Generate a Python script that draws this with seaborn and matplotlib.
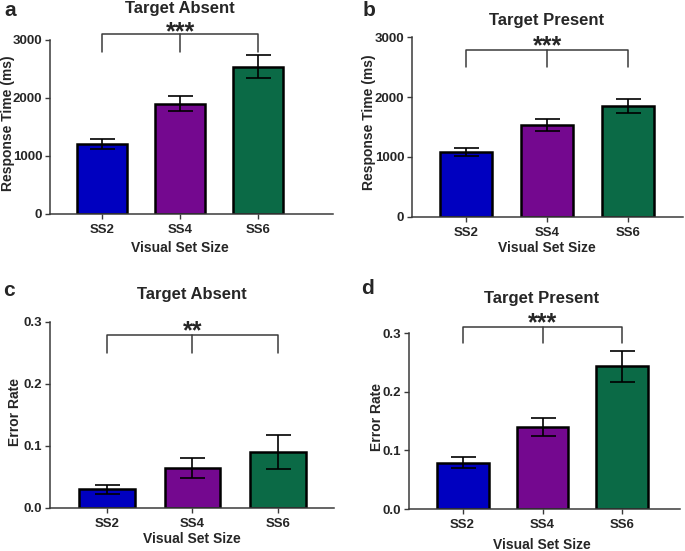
import matplotlib
matplotlib.use("Agg")
import matplotlib.pyplot as plt
import seaborn as sns
import pandas as pd

# data
set_sizes = ["SS2", "SS4", "SS6"]
rt_absent = [1205, 1905, 2540]
rt_absent_sem = [80, 125, 195]
rt_present = [1090, 1535, 1855]
rt_present_sem = [68, 100, 118]
err_absent = [0.030, 0.065, 0.090]
err_absent_sem = [0.007, 0.016, 0.027]
err_present = [0.079, 0.140, 0.243]
err_present_sem = [0.009, 0.015, 0.027]

bar_colors = ["#0000C0", "#74088F", "#0B6A46"]

sns.set_style("ticks")
plt.rcParams["font.family"] = ["Liberation Sans", "DejaVu Sans"]
plt.rcParams["font.weight"] = "bold"

W, H = 685, 551
fig = plt.figure(figsize=(W / 100, H / 100), dpi=100)


def px_axes(left, top, right, bottom):
    return fig.add_axes([left / W, 1 - bottom / H, (right - left) / W, (bottom - top) / H])


def panel(ax, vals, sems, xlim, ylim, yticks, yfmt, bracket, stars, gap):
    df = pd.DataFrame({"size": set_sizes, "value": vals})
    sns.barplot(data=df, x="size", y="value", hue="size", palette=bar_colors,
                legend=False, width=0.65, edgecolor="black", linewidth=1.8,
                saturation=1, errorbar=None, ax=ax)
    ax.errorbar(range(3), vals, yerr=sems, fmt="none", ecolor="black",
                elinewidth=1.2, capsize=9, capthick=1.2, zorder=5)
    ax.set_xlim(*xlim)
    ax.set_ylim(*ylim)
    ax.set_yticks(yticks)
    ax.set_yticklabels([yfmt.format(t) for t in yticks])
    ax.set_xlabel("")
    ax.set_ylabel("")
    sns.despine(ax=ax)
    for s in ["left", "bottom"]:
        ax.spines[s].set_color("#3a3a3a")
        ax.spines[s].set_linewidth(1.1)
    ax.tick_params(axis="both", labelsize=9.5, width=1.0, length=3.5, color="#3a3a3a", pad=2)
    ax.tick_params(axis="x", pad=4)
    for lab in ax.get_xticklabels() + ax.get_yticklabels():
        lab.set_fontweight("bold")
    lo, hi = bracket
    ax.plot([0, 0, 2, 2], [lo, hi, hi, lo], color="#3a3a3a", lw=1.1, clip_on=False)
    ax.plot([1, 1], [lo, hi], color="#3a3a3a", lw=1.1, clip_on=False)
    ax.annotate(stars, xy=(1, hi), xytext=(0, gap), textcoords="offset pixels",
                ha="center", va="baseline", fontsize=18, fontweight="bold",
                annotation_clip=False)


ax_a = px_axes(50, 40, 333, 214)
panel(ax_a, rt_absent, rt_absent_sem, (-0.667, 2.96), (0, 3000), [0, 1000, 2000, 3000],
      "{:.0f}", (2800, 3105), "***", -5)
ax_b = px_axes(412, 37, 683, 217)
panel(ax_b, rt_present, rt_present_sem, (-0.67, 2.68), (0, 3000), [0, 1000, 2000, 3000],
      "{:.0f}", (2500, 2790), "***", -4)
ax_c = px_axes(50, 322, 334, 508)
panel(ax_c, err_absent, err_absent_sem, (-0.66, 2.65), (0, 0.3), [0.0, 0.1, 0.2, 0.3],
      "{:.1f}", (0.25, 0.2785), "**", -3)
ax_d = px_axes(409, 333, 680, 509)
panel(ax_d, err_present, err_present_sem, (-0.67, 2.72), (0, 0.3), [0.0, 0.1, 0.2, 0.3],
      "{:.1f}", (0.2836, 0.311), "***", -4)


def ftext(x, y, s, size, **kw):
    fig.text(x / W, 1 - y / H, s, fontsize=size, fontweight="bold", ha="center", va="center", **kw)


# titles
ftext(180, 8, "Target Absent", 12)
ftext(547, 21, "Target Present", 12)
ftext(192, 294, "Target Absent", 12)
ftext(542, 299, "Target Present", 12)

# panel letters
ftext(10, 11, "a", 15)
ftext(369, 11, "b", 15)
ftext(9, 290, "c", 15)
ftext(367, 288, "d", 15)

# axis labels
ftext(180, 248, "Visual Set Size", 10)
ftext(547, 248, "Visual Set Size", 10)
ftext(192, 539, "Visual Set Size", 10)
ftext(542, 545, "Visual Set Size", 10)
ftext(8, 123, "Response Time (ms)", 10, rotation=90)
ftext(369, 122, "Response Time (ms)", 10, rotation=90)
ftext(15, 412, "Error Rate", 10, rotation=90)
ftext(377, 417, "Error Rate", 10, rotation=90)

fig.savefig("out.png", dpi=100)
